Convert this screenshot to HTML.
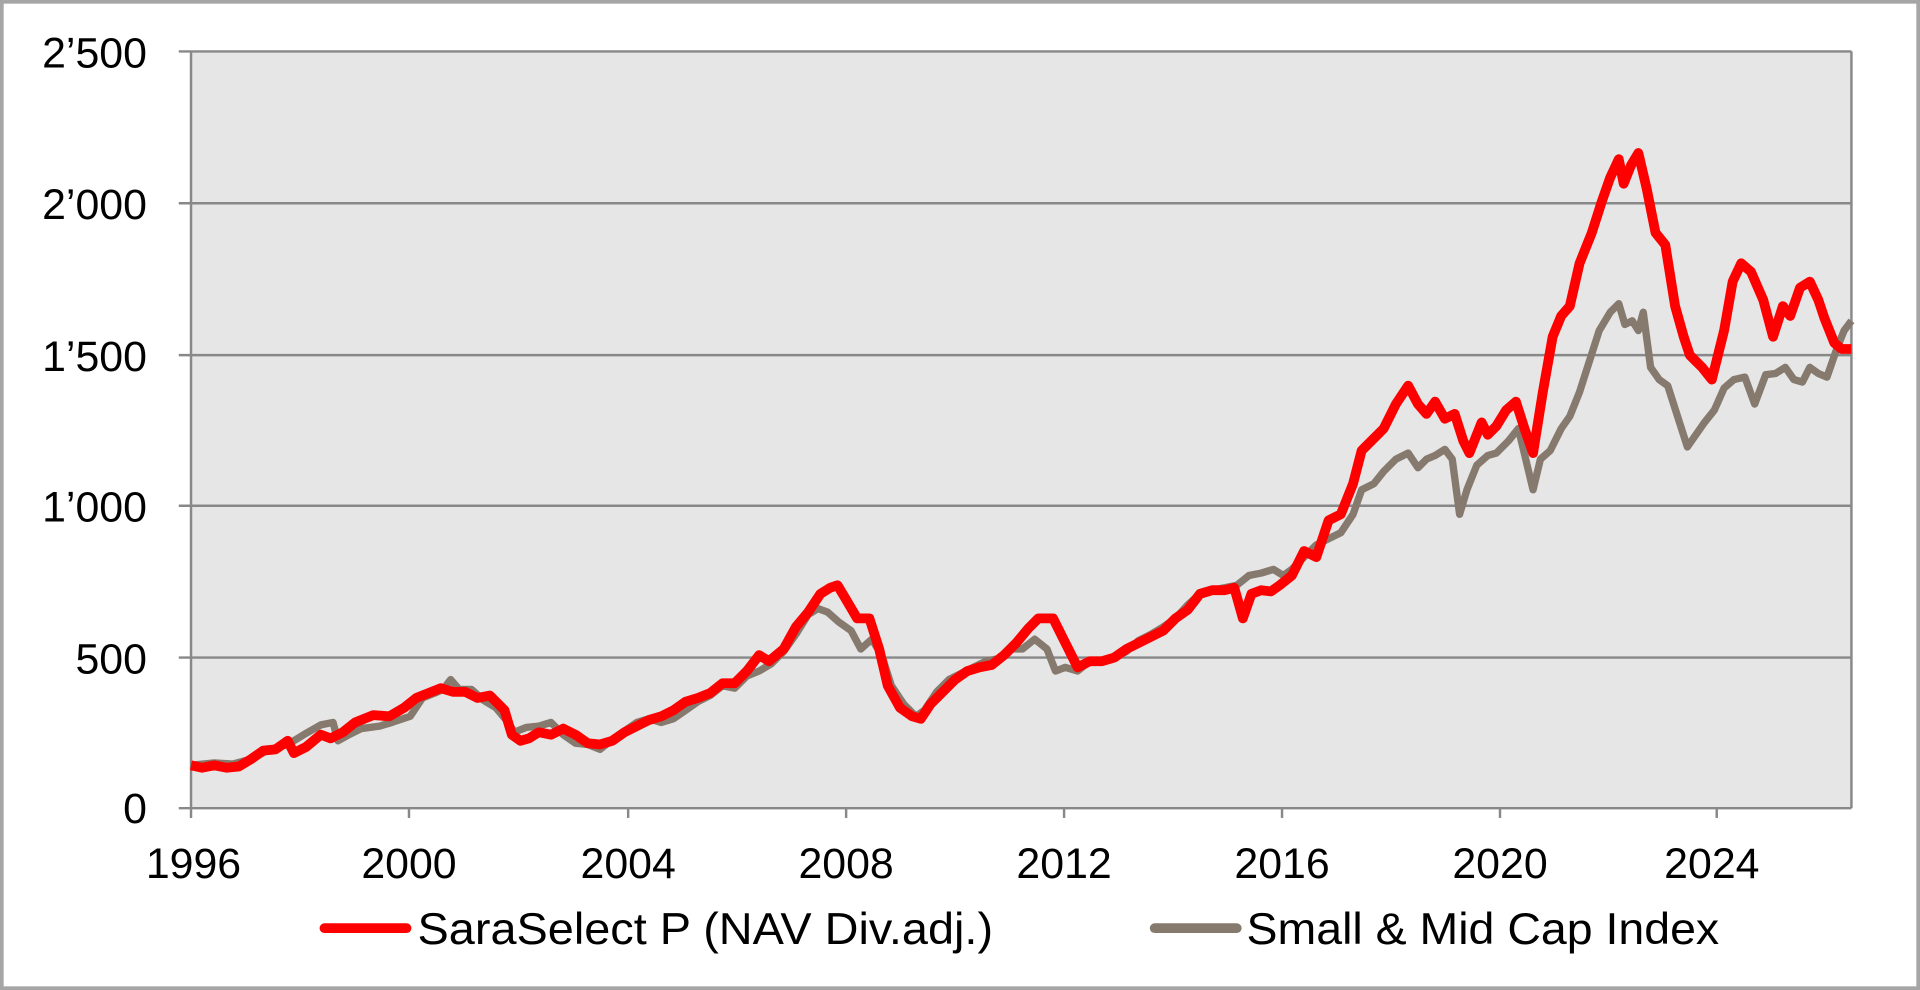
<!DOCTYPE html>
<html><head><meta charset="utf-8"><style>
html,body{margin:0;padding:0;background:#fff;width:1920px;height:990px;overflow:hidden}
svg{display:block}
text{font-family:"Liberation Sans",Arial,sans-serif;fill:#000}
</style></head><body>
<svg width="1920" height="990" viewBox="0 0 1568 808.5" preserveAspectRatio="none">
<rect x="1.5" y="1.5" width="1565" height="805.5" fill="#fff" stroke="#a6a6a6" stroke-width="3"/>
<rect x="156" y="42" width="1356" height="618" fill="#e6e6e6"/>
<g stroke="#888" stroke-width="2" fill="none">
<line x1="146" y1="42" x2="1512" y2="42"/>
<line x1="146" y1="166" x2="1512" y2="166"/>
<line x1="146" y1="290" x2="1512" y2="290"/>
<line x1="146" y1="413" x2="1512" y2="413"/>
<line x1="146" y1="537" x2="1512" y2="537"/>
<line x1="146" y1="660" x2="1512" y2="660"/>
<line x1="156" y1="42" x2="156" y2="668"/>
<line x1="1512" y1="42" x2="1512" y2="660"/>
<line x1="334" y1="660" x2="334" y2="668"/>
<line x1="513" y1="660" x2="513" y2="668"/>
<line x1="691" y1="660" x2="691" y2="668"/>
<line x1="869" y1="660" x2="869" y2="668"/>
<line x1="1047" y1="660" x2="1047" y2="668"/>
<line x1="1225" y1="660" x2="1225" y2="668"/>
<line x1="1402" y1="660" x2="1402" y2="668"/>
</g>
<g font-size="35" text-anchor="end">
<text x="120" y="55">2’500</text>
<text x="120" y="179">2’000</text>
<text x="120" y="303">1’500</text>
<text x="120" y="426">1’000</text>
<text x="120" y="550">500</text>
<text x="120" y="672">0</text>
</g>
<g font-size="35" text-anchor="middle">
<text x="158" y="717">1996</text>
<text x="334" y="717">2000</text>
<text x="513" y="717">2004</text>
<text x="691" y="717">2008</text>
<text x="869" y="717">2012</text>
<text x="1047" y="717">2016</text>
<text x="1225" y="717">2020</text>
<text x="1398" y="717">2024</text>
</g>
<polyline fill="none" stroke="#867a6e" stroke-width="6" stroke-linejoin="round" points="156,625 175,623 190,624 205,620 220,612 235,608 248,600 255,596 262,592 272,590 276,605 285,600 295,595 310,593 320,590 335,585 345,570 355,566 362,563 368,555 375,563 385,563 395,572 405,578 415,590 420,598 430,594 440,593 450,590 460,600 470,607 480,608 490,612 500,604 510,597 520,590 530,587 540,590 550,587 560,580 570,573 580,568 590,560 600,562 610,552 620,548 630,542 640,532 650,518 660,502 668,497 676,500 685,508 695,515 703,530 712,522 720,535 728,560 738,575 748,585 755,580 765,565 775,555 785,550 795,545 805,540 815,538 825,530 835,530 845,522 855,530 862,548 870,545 880,548 890,540 900,540 910,537 920,532 930,523 940,518 950,512 960,505 970,494 980,485 990,482 1000,480 1010,478 1020,470 1030,468 1040,465 1048,470 1055,465 1065,455 1075,445 1085,440 1095,435 1105,420 1112,400 1122,395 1130,385 1140,375 1150,370 1158,382 1165,375 1172,372 1180,367 1186,375 1192,420 1198,400 1206,380 1215,372 1222,370 1232,360 1240,350 1246,375 1252,400 1258,375 1266,368 1275,350 1282,340 1290,320 1298,295 1306,270 1315,255 1322,248 1327,265 1333,262 1338,270 1342,255 1348,300 1355,310 1362,315 1370,340 1378,365 1385,355 1392,345 1400,335 1408,317 1416,310 1425,308 1433,330 1442,306 1450,305 1458,300 1465,310 1472,312 1478,300 1485,305 1492,308 1500,285 1506,270 1512,262"/>
<polyline fill="none" stroke="#ff0000" stroke-width="8" stroke-linejoin="round" points="156,625 165,627 175,625 185,627 195,626 205,620 215,613 225,612 235,605 240,615 250,610 262,600 270,603 280,598 290,590 305,584 318,585 330,578 340,570 350,566 360,562 370,565 380,565 390,570 400,568 412,580 418,600 425,605 432,603 440,598 450,600 460,595 470,600 480,607 490,608 500,605 510,598 520,593 530,588 540,585 550,580 560,573 570,570 580,566 590,558 600,558 610,548 620,535 628,540 640,530 650,512 660,500 670,485 678,480 684,478 690,488 700,505 710,505 718,530 725,560 735,578 745,585 752,587 760,575 770,565 780,555 790,548 800,545 810,543 820,535 830,525 840,513 848,505 860,505 870,525 880,545 890,540 900,540 910,537 920,530 930,525 940,520 950,515 960,505 970,498 980,485 990,482 1000,482 1008,480 1015,505 1022,485 1030,482 1038,483 1045,478 1055,470 1065,450 1075,455 1085,425 1095,420 1105,395 1112,368 1122,358 1130,350 1140,330 1150,315 1158,330 1165,338 1172,328 1180,342 1188,338 1195,360 1200,370 1210,345 1215,355 1222,348 1230,335 1238,328 1245,350 1252,370 1260,320 1268,275 1275,258 1282,250 1290,215 1300,190 1308,165 1315,145 1322,130 1326,150 1332,135 1338,125 1345,155 1352,190 1360,200 1368,250 1375,275 1380,290 1385,295 1390,300 1398,310 1408,270 1415,230 1422,215 1430,222 1440,245 1448,275 1456,250 1462,258 1470,235 1478,230 1485,245 1490,260 1498,280 1504,285 1512,285"/>
<line x1="265" y1="758" x2="332" y2="758" stroke="#ff0000" stroke-width="8" stroke-linecap="round"/>
<text x="341" y="771" font-size="36" textLength="470" lengthAdjust="spacingAndGlyphs">SaraSelect P (NAV Div.adj.)</text>
<line x1="943" y1="758" x2="1010" y2="758" stroke="#867a6e" stroke-width="8" stroke-linecap="round"/>
<text x="1018" y="771" font-size="36" textLength="386" lengthAdjust="spacingAndGlyphs">Small &amp; Mid Cap Index</text>
</svg>
</body></html>
